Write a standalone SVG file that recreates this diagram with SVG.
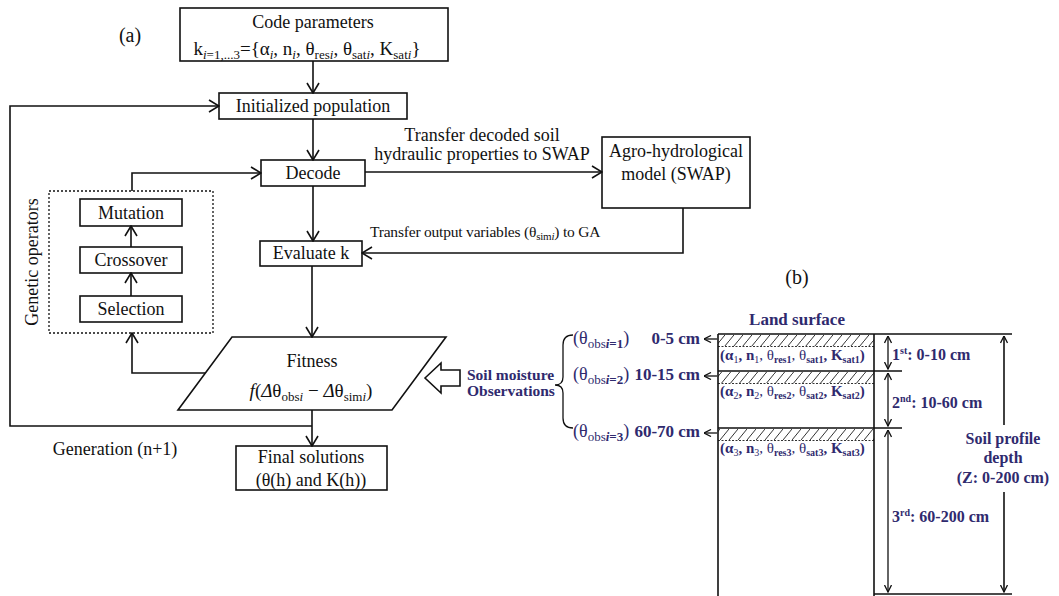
<svg xmlns="http://www.w3.org/2000/svg" width="1059" height="596" viewBox="0 0 1059 596">
<style>
.box{fill:#fff;stroke:#111;stroke-width:1.6}
.ln{fill:none;stroke:#111;stroke-width:1.6}
.thin{fill:none;stroke:#111;stroke-width:1.3}
.t{font-family:"Liberation Serif",serif;font-size:18px;fill:#111}
.c{text-anchor:middle}
.b{font-family:"Liberation Serif",serif;font-weight:bold;fill:#2f2a6e}
.p{font-family:"Liberation Serif",serif;fill:#2f2a6e}
</style>
<defs>
<marker id="ah" viewBox="0 0 12 14" refX="11" refY="7" markerWidth="12" markerHeight="14" markerUnits="userSpaceOnUse" orient="auto"><path d="M1,1 L11,7 L1,13" fill="none" stroke="#111" stroke-width="1.6"/></marker>
<marker id="sa" viewBox="0 0 8 8" refX="7.5" refY="4" markerWidth="8" markerHeight="8" markerUnits="userSpaceOnUse" orient="auto-start-reverse"><path d="M0.5,0.5 L7.5,4 L0.5,7.5" fill="none" stroke="#111" stroke-width="1.3"/></marker>
<pattern id="hatch" width="9" height="11" patternUnits="userSpaceOnUse"><path d="M0,11 L9,0" stroke="#333" stroke-width="1"/></pattern>
</defs>

<text class="t" x="130" y="42" text-anchor="middle" style="font-size:20px">(a)</text>

<g id="code-parameters">
<rect class="box" x="180" y="8" width="268" height="53"/>
<text class="t c" x="313" y="28">Code parameters</text>
<text class="t c" x="307" y="55" style="font-size:19px">k<tspan font-size="13" dy="4" font-style="italic">i</tspan><tspan font-size="13">=1,...3</tspan><tspan dy="-4">={α</tspan><tspan font-size="13" dy="4" font-style="italic">i</tspan><tspan dy="-4">, n</tspan><tspan font-size="13" dy="4" font-style="italic">i</tspan><tspan dy="-4">, θ</tspan><tspan font-size="13" dy="4">res<tspan font-style="italic">i</tspan></tspan><tspan dy="-4">, θ</tspan><tspan font-size="13" dy="4">sat<tspan font-style="italic">i</tspan></tspan><tspan dy="-4">, K</tspan><tspan font-size="13" dy="4">sat<tspan font-style="italic">i</tspan></tspan><tspan dy="-4">}</tspan></text>
</g>

<g id="initialized-population">
<rect class="box" x="219" y="93" width="188" height="26"/>
<text class="t c" x="313" y="112">Initialized population</text>
</g>

<g id="decode">
<rect class="box" x="261" y="160" width="104" height="26"/>
<text class="t c" x="313" y="179">Decode</text>
</g>

<g id="evaluate-k">
<rect class="box" x="260" y="241" width="102" height="25"/>
<text class="t c" x="311" y="259">Evaluate k</text>
</g>

<g id="agro-model">
<rect class="box" x="602" y="137" width="148" height="71"/>
<text class="t c" x="676" y="157">Agro-hydrological</text>
<text class="t c" x="676" y="180">model (SWAP)</text>
</g>

<g id="genetic-operators">
<rect x="49" y="191" width="164" height="142" fill="none" stroke="#111" stroke-width="1.3" stroke-dasharray="2,2"/>
<text class="t c" x="38" y="262" transform="rotate(-90 38 262)">Genetic operators</text>
</g>
<g id="mutation">
<rect class="box" x="80" y="199" width="102" height="27"/>
<text class="t c" x="131" y="218.5">Mutation</text>
</g>
<g id="crossover">
<rect class="box" x="80" y="247" width="102" height="26"/>
<text class="t c" x="131" y="266">Crossover</text>
</g>
<g id="selection">
<rect class="box" x="80" y="296" width="102" height="26"/>
<text class="t c" x="131" y="315">Selection</text>
</g>

<g id="fitness">
<polygon class="box" points="232,337 446,337 392,410 178,410"/>
<text class="t c" x="312" y="367">Fitness</text>
<text class="t c" x="311" y="397" style="font-size:19px"><tspan font-style="italic">f</tspan>(<tspan font-style="italic">Δ</tspan>θ<tspan font-size="13" dy="4">obs<tspan font-style="italic">i</tspan></tspan><tspan dy="-4"> − </tspan><tspan font-style="italic">Δ</tspan>θ<tspan font-size="13" dy="4">sim<tspan font-style="italic">i</tspan></tspan><tspan dy="-4">)</tspan></text>
</g>

<g id="final-solutions">
<rect class="box" x="236" y="446" width="151" height="44"/>
<text class="t c" x="311" y="463">Final solutions</text>
<text class="t c" x="311" y="486">(θ(h) and K(h))</text>
</g>

<text class="t c" x="115" y="455">Generation (n+1)</text>

<g id="connectors">
<path class="ln" d="M313,61 L313,93" marker-end="url(#ah)"/>
<path class="ln" d="M313,119 L313,160" marker-end="url(#ah)"/>
<path class="ln" d="M313,186 L313,241" marker-end="url(#ah)"/>
<path class="ln" d="M312,266 L312,337" marker-end="url(#ah)"/>
<path class="ln" d="M312,410 L312,446" marker-end="url(#ah)"/>
<path class="ln" d="M312,426 L10,426 L10,106 L219,106" marker-end="url(#ah)"/>
<path class="ln" d="M365,172 L602,172" marker-end="url(#ah)"/>
<path class="ln" d="M683,208 L683,253 L362,253" marker-end="url(#ah)"/>
<path class="ln" d="M131,296 L131,273" marker-end="url(#ah)"/>
<path class="ln" d="M131,247 L131,226" marker-end="url(#ah)"/>
<path class="ln" d="M132,191 L132,173 L261,173" marker-end="url(#ah)"/>
<path class="ln" d="M205,373 L132,373 L132,333" marker-end="url(#ah)"/>
<text class="t c" x="482" y="141">Transfer decoded soil</text>
<text class="t c" x="482" y="160">hydraulic properties to SWAP</text>
<text class="t" x="370" y="237" style="font-size:15.5px;letter-spacing:-0.2px">Transfer output variables (θ<tspan font-size="11" dy="3">sim<tspan font-style="italic">i</tspan></tspan><tspan dy="-3">) to GA</tspan></text>
<polygon points="425,378 441,363 441,370 460,370 460,386 441,386 441,393" fill="#fff" stroke="#111" stroke-width="1.6"/>
</g>

<g id="observations">
<text class="b" x="467" y="380" font-size="15.5">Soil moisture</text>
<text class="b" x="467" y="396" font-size="15.5">Observations</text>
<path class="thin" d="M573,335 Q563,335 563,345 L563,377 Q563,385 555,385 Q563,385 563,393 L563,418 Q563,428 573,428"/>
</g>

<text class="t c" x="797" y="284" style="font-size:20px">(b)</text>

<g id="soil-profile">
<text class="b" x="797" y="325" font-size="17" text-anchor="middle">Land surface</text>
<rect x="718" y="335" width="156" height="11" fill="url(#hatch)"/>
<rect x="718" y="372" width="156" height="11" fill="url(#hatch)"/>
<rect x="718" y="429" width="156" height="11" fill="url(#hatch)"/>
<path d="M718,346.5 H874 M718,383.5 H874 M718,440.5 H874" stroke="#333" stroke-width="1" stroke-dasharray="2,1.5"/>
<path class="ln" d="M718,334 L1012,334 M718,371 L902,371 M718,428 L902,428 M874,594 L1012,594 M718,334 L718,596 M874,334 L874,596"/>
<text class="p" x="720" y="360" font-size="15"><tspan font-weight="bold">(α</tspan><tspan font-size="10" dy="3">1</tspan><tspan dy="-3" font-weight="bold">, n</tspan><tspan font-size="10" dy="3">1</tspan><tspan dy="-3">, θ</tspan><tspan font-size="10" dy="3" font-weight="bold">res1</tspan><tspan dy="-3">, θ</tspan><tspan font-size="10" dy="3" font-weight="bold">sat1</tspan><tspan dy="-3" font-weight="bold">, K</tspan><tspan font-size="10" dy="3" font-weight="bold">sat1</tspan><tspan dy="-3" font-weight="bold">)</tspan></text>
<text class="p" x="720" y="396" font-size="15"><tspan font-weight="bold">(α</tspan><tspan font-size="10" dy="3">2</tspan><tspan dy="-3" font-weight="bold">, n</tspan><tspan font-size="10" dy="3">2</tspan><tspan dy="-3">, θ</tspan><tspan font-size="10" dy="3" font-weight="bold">res2</tspan><tspan dy="-3">, θ</tspan><tspan font-size="10" dy="3" font-weight="bold">sat2</tspan><tspan dy="-3" font-weight="bold">, K</tspan><tspan font-size="10" dy="3" font-weight="bold">sat2</tspan><tspan dy="-3" font-weight="bold">)</tspan></text>
<text class="p" x="720" y="453" font-size="15"><tspan font-weight="bold">(α</tspan><tspan font-size="10" dy="3">3</tspan><tspan dy="-3" font-weight="bold">, n</tspan><tspan font-size="10" dy="3">3</tspan><tspan dy="-3">, θ</tspan><tspan font-size="10" dy="3" font-weight="bold">res3</tspan><tspan dy="-3">, θ</tspan><tspan font-size="10" dy="3" font-weight="bold">sat3</tspan><tspan dy="-3" font-weight="bold">, K</tspan><tspan font-size="10" dy="3" font-weight="bold">sat3</tspan><tspan dy="-3" font-weight="bold">)</tspan></text>

<text class="p" x="573" y="344" font-size="18">(θ<tspan font-size="13" dy="4">obs<tspan font-style="italic" font-weight="bold">i</tspan><tspan font-weight="bold">=1</tspan></tspan><tspan dy="-4">)</tspan></text>
<text class="b" x="700" y="344" font-size="17" text-anchor="end">0-5 cm</text>
<text class="p" x="573" y="380" font-size="18">(θ<tspan font-size="13" dy="4">obs<tspan font-style="italic" font-weight="bold">i</tspan><tspan font-weight="bold">=2</tspan></tspan><tspan dy="-4">)</tspan></text>
<text class="b" x="700" y="380" font-size="17" text-anchor="end">10-15 cm</text>
<text class="p" x="573" y="437" font-size="18">(θ<tspan font-size="13" dy="4">obs<tspan font-style="italic" font-weight="bold">i</tspan><tspan font-weight="bold">=3</tspan></tspan><tspan dy="-4">)</tspan></text>
<text class="b" x="700" y="437" font-size="17" text-anchor="end">60-70 cm</text>
<path class="thin" d="M717,339 L704,339" marker-end="url(#sa)"/>
<path class="thin" d="M717,376 L704,376" marker-end="url(#sa)"/>
<path class="thin" d="M717,433 L704,433" marker-end="url(#sa)"/>

<path class="thin" d="M888,336 L888,369" marker-start="url(#sa)" marker-end="url(#sa)"/>
<path class="thin" d="M888,373 L888,426" marker-start="url(#sa)" marker-end="url(#sa)"/>
<path class="thin" d="M888,430 L888,592" marker-start="url(#sa)" marker-end="url(#sa)"/>
<path class="ln" d="M1004,425 L1004,336" marker-end="url(#sa)"/>
<path class="ln" d="M1004,492 L1004,592" marker-end="url(#sa)"/>

<text class="b" x="892" y="360" font-size="16">1<tspan font-size="10" dy="-6">st</tspan><tspan dy="6">: 0-10 cm</tspan></text>
<text class="b" x="892" y="408" font-size="16">2<tspan font-size="10" dy="-6">nd</tspan><tspan dy="6">: 10-60 cm</tspan></text>
<text class="b" x="892" y="522" font-size="16">3<tspan font-size="10" dy="-6">rd</tspan><tspan dy="6">: 60-200 cm</tspan></text>
<text class="b" x="1003" y="444" font-size="16" text-anchor="middle">Soil profile</text>
<text class="b" x="1003" y="463" font-size="16" text-anchor="middle">depth</text>
<text class="b" x="1003" y="483" font-size="16" text-anchor="middle">(Z: 0-200 cm)</text>
</g>
</svg>
